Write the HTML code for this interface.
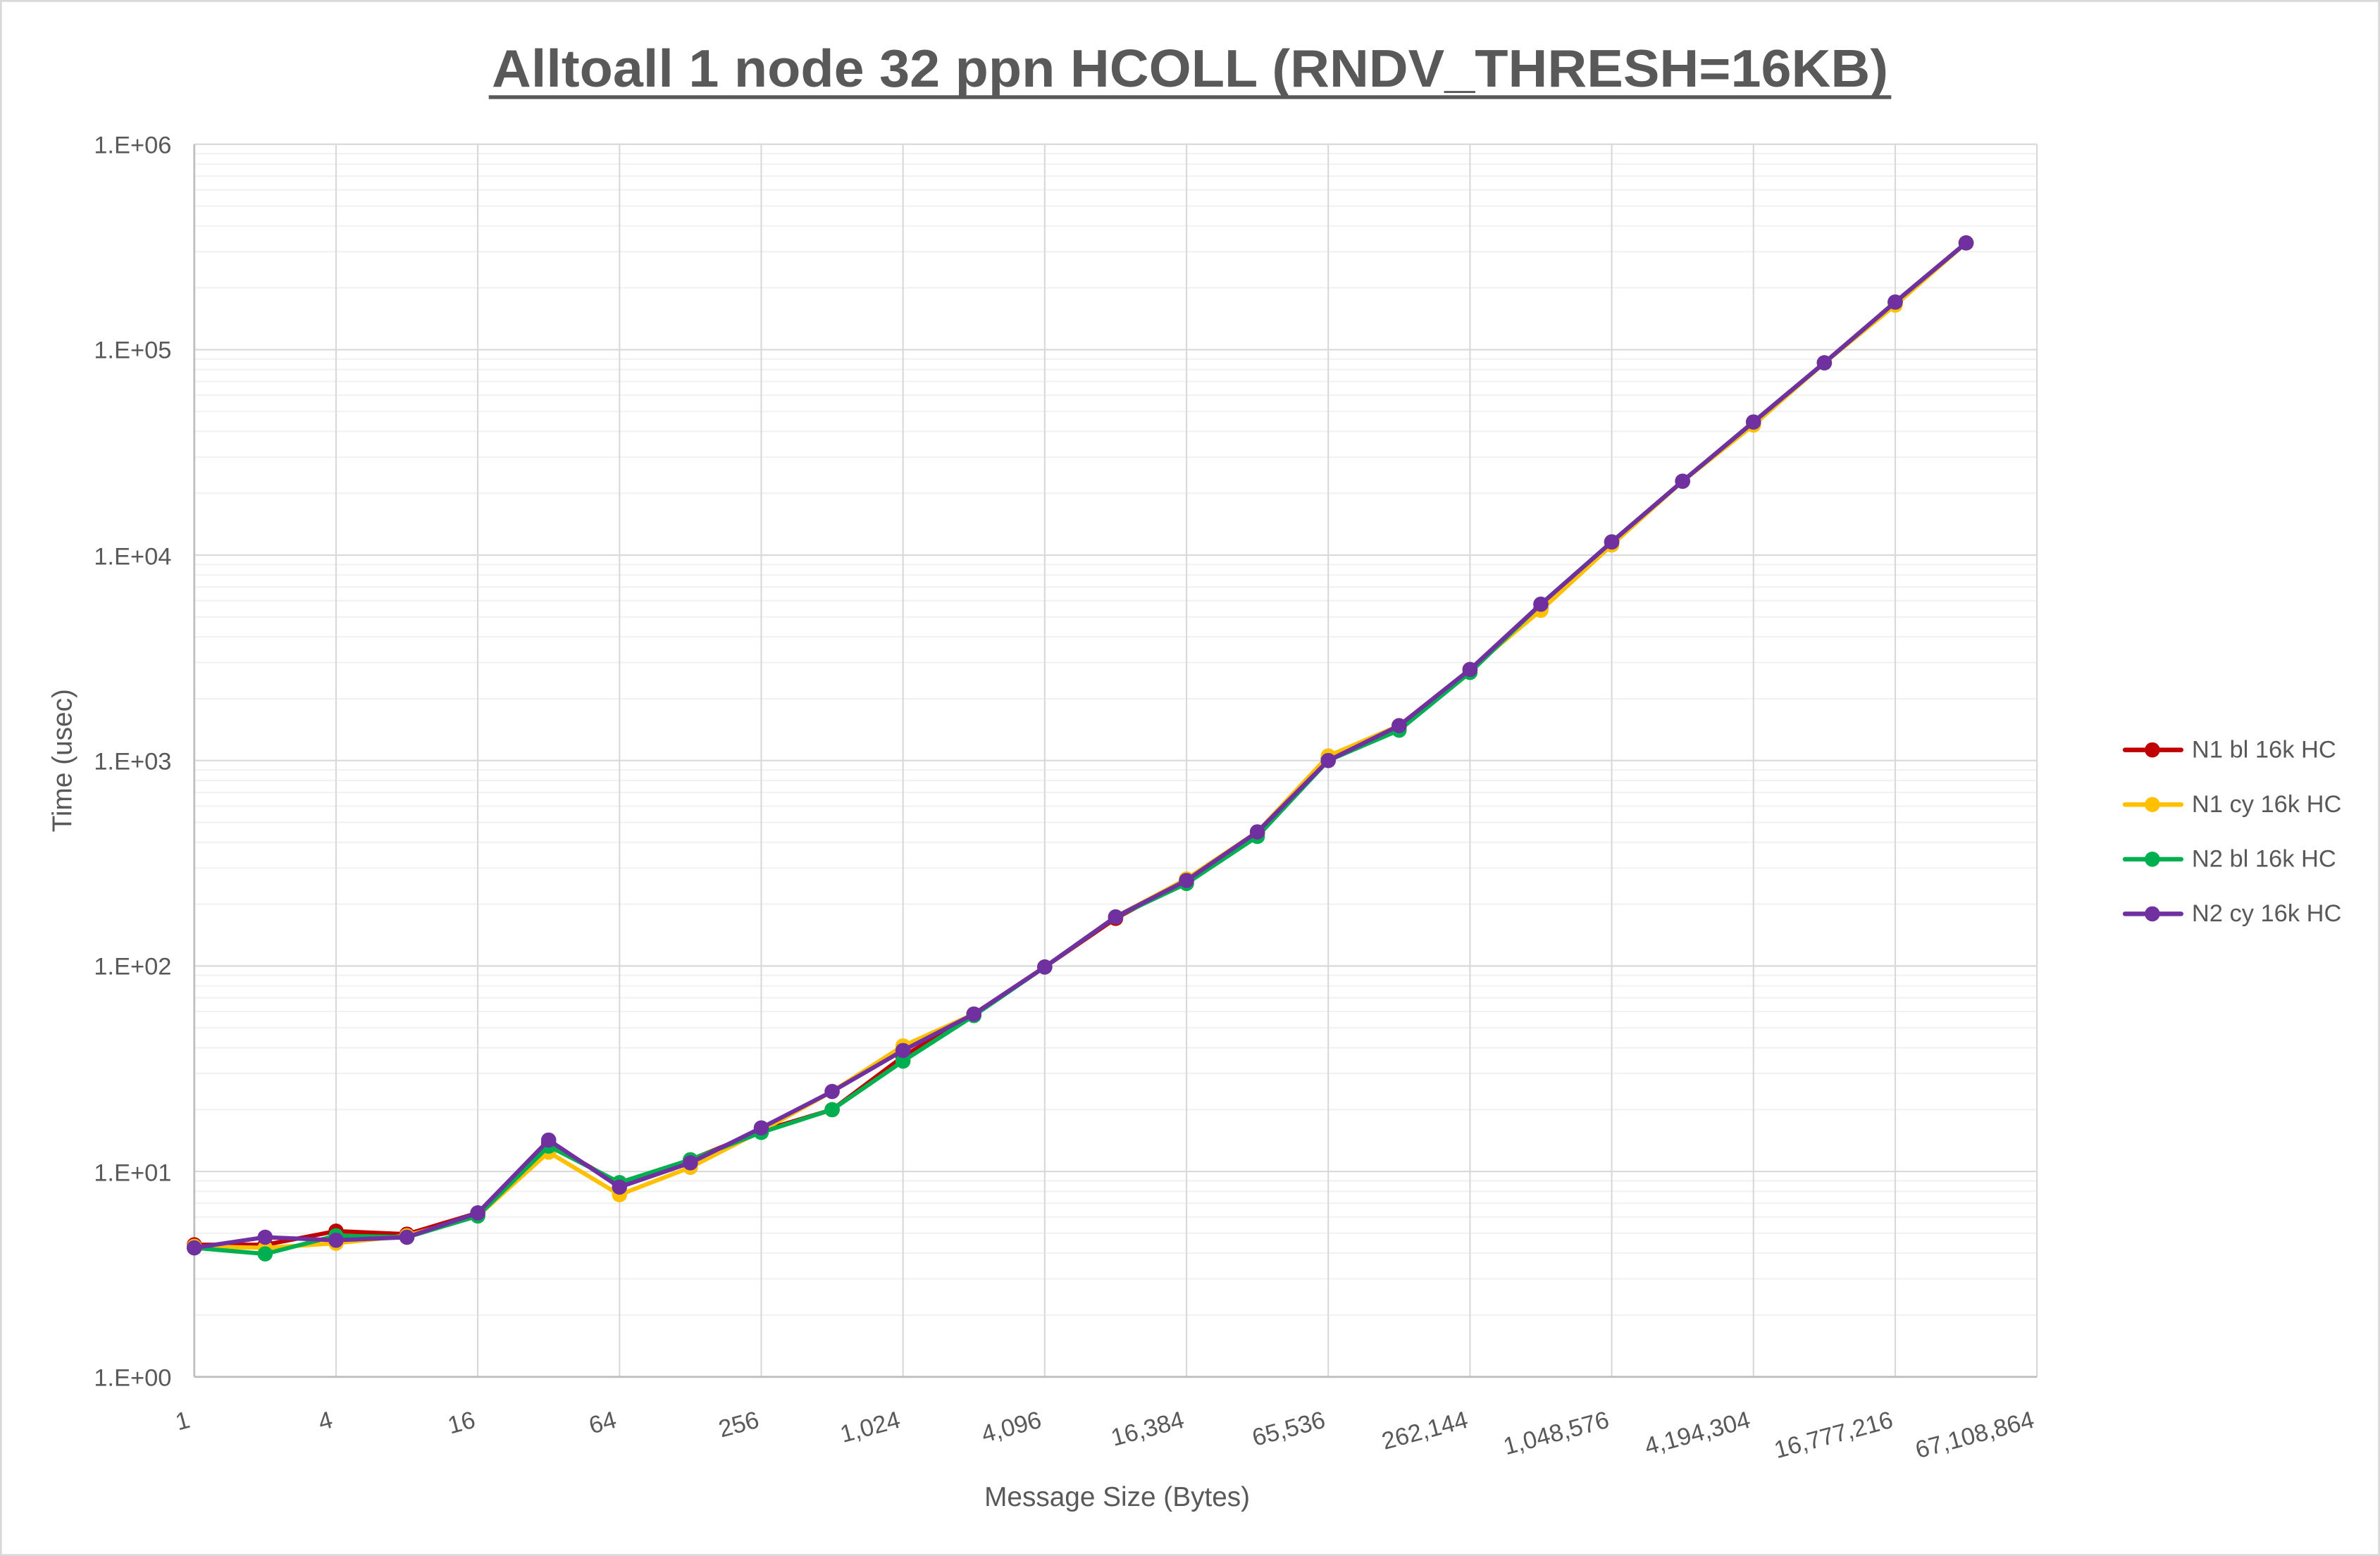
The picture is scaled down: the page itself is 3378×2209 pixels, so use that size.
<!DOCTYPE html>
<html><head><meta charset="utf-8"><style>
html,body{margin:0;padding:0;background:#fff;}
svg{display:block;}
text{font-family:"Liberation Sans",sans-serif;fill:#595959;}
</style></head><body>
<svg id="c" width="3378" height="2209" viewBox="0 0 1568 1025" preserveAspectRatio="none" xmlns="http://www.w3.org/2000/svg">
<rect x="0.5" y="0.5" width="1567" height="1024" fill="#fff" stroke="#d9d9d9" stroke-width="1.5"/>
<g id="grid"></g>
<g id="series"></g>
<text x="324" y="57" font-size="35" font-weight="bold" textLength="920" lengthAdjust="spacingAndGlyphs">Alltoall 1 node 32 ppn HCOLL (RNDV_THRESH=16KB)</text>
<line x1="322" y1="64" x2="1246" y2="64" stroke="#595959" stroke-width="2.5"/>
<g font-size="16" text-anchor="end">
<text x="113" y="101">1.E+06</text>
<text x="113" y="236">1.E+05</text>
<text x="113" y="372">1.E+04</text>
<text x="113" y="507">1.E+03</text>
<text x="113" y="642">1.E+02</text>
<text x="113" y="778">1.E+01</text>
<text x="113" y="913">1.E+00</text>
</g>
<g font-size="16" text-anchor="end">
<text transform="translate(126,940) rotate(-15)">1</text>
<text transform="translate(220,940) rotate(-15)">4</text>
<text transform="translate(314,940) rotate(-15)">16</text>
<text transform="translate(407,940) rotate(-15)">64</text>
<text transform="translate(501,940) rotate(-15)">256</text>
<text transform="translate(594,940) rotate(-15)">1,024</text>
<text transform="translate(687,940) rotate(-15)">4,096</text>
<text transform="translate(781,940) rotate(-15)">16,384</text>
<text transform="translate(874,940) rotate(-15)">65,536</text>
<text transform="translate(968,940) rotate(-15)">262,144</text>
<text transform="translate(1061,940) rotate(-15)">1,048,576</text>
<text transform="translate(1154,940) rotate(-15)">4,194,304</text>
<text transform="translate(1248,940) rotate(-15)">16,777,216</text>
<text transform="translate(1341,940) rotate(-15)">67,108,864</text>
</g>
<text x="736" y="992" text-anchor="middle" font-size="18">Message Size (Bytes)</text>
<text transform="translate(47,501) rotate(-90)" text-anchor="middle" font-size="18">Time (usec)</text>
<g font-size="16">
<line x1="1400" y1="494" x2="1437" y2="494" stroke="#c00000" stroke-width="3" stroke-linecap="round"/><circle cx="1418" cy="494" r="5" fill="#c00000"/><text x="1444" y="499">N1 bl 16k HC</text>
<line x1="1400" y1="530" x2="1437" y2="530" stroke="#ffc000" stroke-width="3" stroke-linecap="round"/><circle cx="1418" cy="530" r="5" fill="#ffc000"/><text x="1444" y="535">N1 cy 16k HC</text>
<line x1="1400" y1="566" x2="1437" y2="566" stroke="#00b050" stroke-width="3" stroke-linecap="round"/><circle cx="1418" cy="566" r="5" fill="#00b050"/><text x="1444" y="571">N2 bl 16k HC</text>
<line x1="1400" y1="602" x2="1437" y2="602" stroke="#7030a0" stroke-width="3" stroke-linecap="round"/><circle cx="1418" cy="602" r="5" fill="#7030a0"/><text x="1444" y="607">N2 cy 16k HC</text>
</g>
</svg>
<script>
(function(){
var L=128,R=1342,T=95,B=907,D=(B-T)/6,dx=(R-L)/26;
var g=document.getElementById("grid"),s="";
for(var d=0;d<6;d++){for(var k=2;k<10;k++){var y=B-D*(d+Math.log10(k));s+='<line x1="'+L+'" x2="'+R+'" y1="'+y+'" y2="'+y+'" stroke="#f2f2f2" stroke-width="1"/>';}}
for(var d=1;d<=6;d++){var y=B-D*d;s+='<line x1="'+L+'" x2="'+R+'" y1="'+y+'" y2="'+y+'" stroke="#d9d9d9" stroke-width="1"/>';}
for(var i=2;i<=26;i+=2){var x=L+dx*i;s+='<line x1="'+x+'" x2="'+x+'" y1="'+T+'" y2="'+B+'" stroke="#d9d9d9" stroke-width="1"/>';}
s+='<line x1="'+L+'" x2="'+L+'" y1="'+T+'" y2="'+B+'" stroke="#bfbfbf" stroke-width="1.3"/>';
s+='<line x1="'+L+'" x2="'+R+'" y1="'+B+'" y2="'+B+'" stroke="#bfbfbf" stroke-width="1.3"/>';
g.innerHTML=s;
var P=[822,815,817,815,799,751,782,766,743,719,692,668,637,604,580,548,501,478,441,398,357,317,278,239,199,160];
function mod(o){var a=P.slice();for(var k in o)a[k]=o[k];return a;}
var ser=[
["#c00000",mod({0:820,1:820,2:811,3:813,5:753,6:780,7:764,8:745,9:731,10:696,15:549,16:500,19:401,13:605,17:479})],
["#ffc000",mod({0:821,1:822,2:819,3:814,4:801,5:759,6:787,7:769,8:745,9:719,10:689,14:579,16:498,19:402,24:201,20:359,22:280})],
["#00b050",mod({0:822,1:826,2:814,3:815,4:801,5:755,6:779,7:764,8:746,9:731,10:699,11:669,14:582,15:551,16:501,17:481,18:443})],
["#7030a0",P]];
var out="";
ser.forEach(function(se){var pts=se[1].map(function(y,i){return (L+dx*i)+","+y;}).join(" ");
out+='<polyline points="'+pts+'" fill="none" stroke="'+se[0]+'" stroke-width="2.8" stroke-linejoin="round"/>';
se[1].forEach(function(y,i){out+='<circle cx="'+(L+dx*i)+'" cy="'+y+'" r="5" fill="'+se[0]+'"/>';});});
document.getElementById("series").innerHTML=out;
})();
</script>
</body></html>
